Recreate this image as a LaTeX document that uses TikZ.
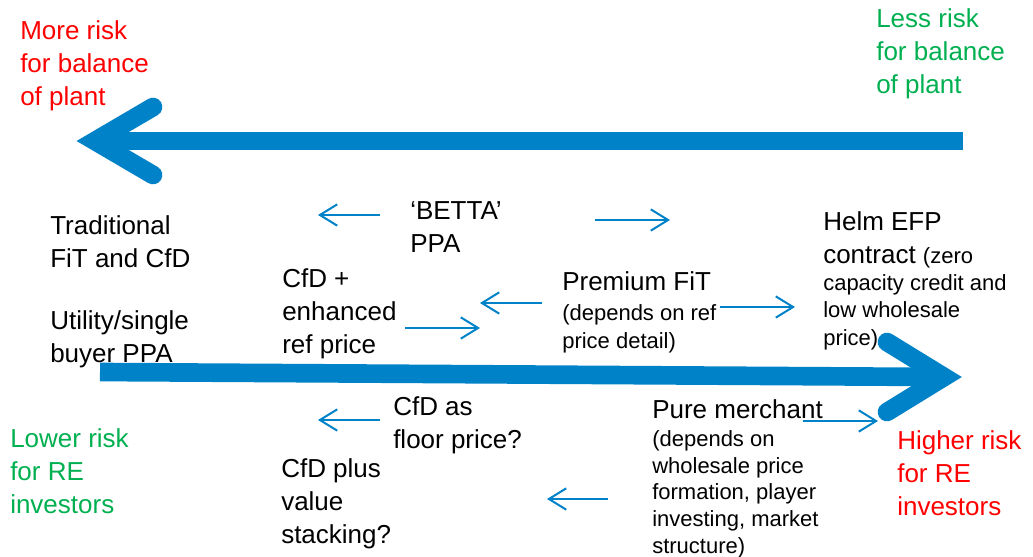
\documentclass[tikz,border=0pt]{standalone}
\usepackage{fontspec}
\setmainfont{Liberation Sans}
\usetikzlibrary{arrows.meta}
\definecolor{arrowblue}{RGB}{0,130,200}
\definecolor{riskred}{RGB}{255,0,0}
\definecolor{riskgreen}{RGB}{0,176,80}
\newcommand{\notesize}{\fontsize{16.5}{20.6}\selectfont}
\begin{document}
\begin{tikzpicture}[x=0.75pt,y=-0.75pt,
  % text nodes are placed by the baseline of their last line
  lbl/.style={anchor=base west,inner sep=0pt,align=left,font=\fontsize{19.5}{24.75}\selectfont},
  note/.style={anchor=base west,inner sep=0pt,align=left,font=\notesize},
  thinarrow/.style={draw=arrowblue,line width=1.5pt,-{Straight Barb[length=13pt,width=16pt]}},
  shaft/.style={draw=arrowblue,line width=14pt},
  head/.style={draw=arrowblue,line width=14pt,line cap=round,line join=miter,miter limit=10}
]
\useasboundingbox (0,0) rectangle (1033,557);

% wide arrow pointing left (balance-of-plant risk)
\coordinate (topR) at (963,141);
\coordinate (topV) at (95,141);
\coordinate (topA) at (153,107);
\coordinate (topB) at (153,175);
\draw[shaft] (topR) -- (topV);
\draw[head] (topA) -- (topV) -- (topB);

% wide arrow pointing right (investor risk)
\coordinate (botL) at (100,372);
\coordinate (botV) at (944,377);
\coordinate (botA) at (887,342);
\coordinate (botB) at (887,412);
\draw[shaft] (botL) -- (botV);
\draw[head] (botA) -- (botV) -- (botB);

% corner captions
\node[lbl,text=riskred] (moreRisk) at (20,105) {More risk\\for balance\\of plant};
\node[lbl,text=riskgreen] (lessRisk) at (876,93) {Less risk\\for balance\\of plant};
\node[lbl,text=riskgreen] (lowerRisk) at (10,513) {Lower risk\\for RE\\investors};
\node[lbl,text=riskred] (higherRisk) at (897,515) {Higher risk\\for RE\\investors};

% contract types
\node[lbl] (trad) at (50,267) {Traditional\\FiT and CfD};
\node[lbl] (utility) at (50,362) {Utility/single\\buyer PPA};
\node[lbl] (betta) at (410,252) {‘BETTA’\\PPA};
\node[lbl] (cfdplus) at (282,353) {CfD +\\enhanced\\ref price};
\node[lbl] (premium) at (562,290) {Premium FiT};
\node[note] (premiumNote) at (562,348) {(depends on ref\\price detail)};
\node[lbl] (helm) at (823,263) {Helm EFP\\contract {\notesize (zero}};
\node[note] (helmNote) at (823,345) {capacity credit and\\low wholesale\\price)};
\node[lbl] (floor) at (393,448) {CfD as\\floor price?};
\node[lbl] (stack) at (281,543) {CfD plus\\value\\stacking?};
\node[lbl] (merchant) at (652,418) {Pure merchant};
\node[note,font=\fontsize{16.5}{19.9}\selectfont] (merchantNote) at (652,553) {(depends on\\wholesale price\\formation, player\\investing, market\\structure)};

% direction arrows
\coordinate (b1s) at (380,215); \coordinate (b1e) at (318,215);
\coordinate (b2s) at (595,220); \coordinate (b2e) at (670,220);
\coordinate (c1s) at (405,328); \coordinate (c1e) at (480,328);
\coordinate (p1s) at (542,303); \coordinate (p1e) at (480,303);
\coordinate (p2s) at (720,307); \coordinate (p2e) at (795,307);
\coordinate (f1s) at (380,420); \coordinate (f1e) at (318,420);
\coordinate (m1s) at (608,499); \coordinate (m1e) at (547,499);
\coordinate (m2s) at (803,421); \coordinate (m2e) at (878,421);
\draw[thinarrow] (b1s) -- (b1e);
\draw[thinarrow] (b2s) -- (b2e);
\draw[thinarrow] (c1s) -- (c1e);
\draw[thinarrow] (p1s) -- (p1e);
\draw[thinarrow] (p2s) -- (p2e);
\draw[thinarrow] (f1s) -- (f1e);
\draw[thinarrow] (m1s) -- (m1e);
\draw[thinarrow] (m2s) -- (m2e);
\end{tikzpicture}
\end{document}
